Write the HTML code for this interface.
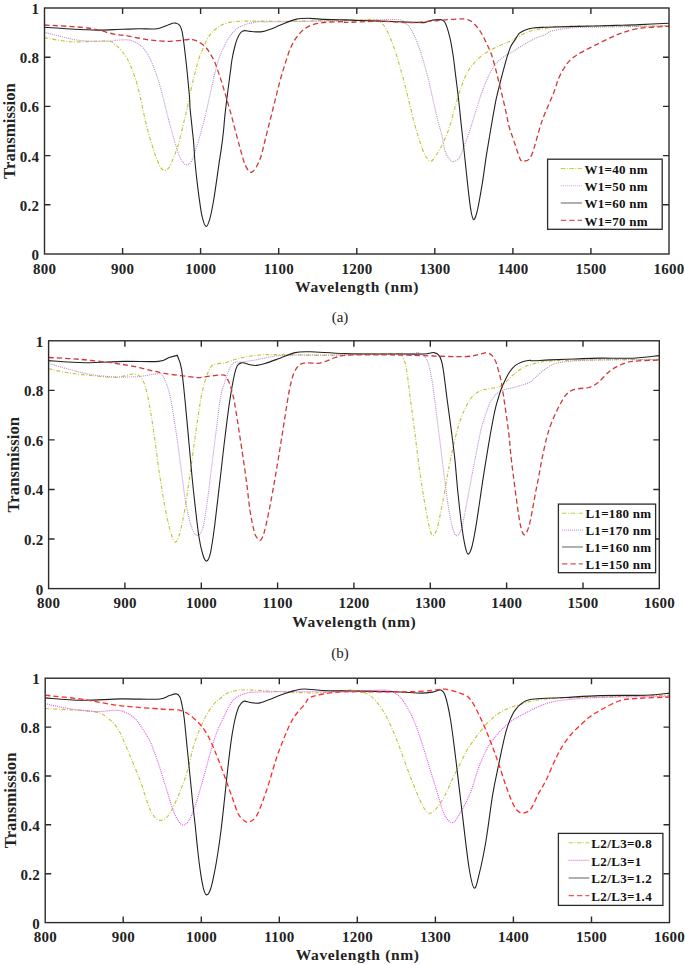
<!DOCTYPE html>
<html><head><meta charset="utf-8"><style>
html,body{margin:0;padding:0;background:#fff;}
body{width:685px;height:965px;overflow:hidden;font-family:"Liberation Serif",serif;}
svg{display:block;}
</style></head><body>
<svg width="685" height="965" viewBox="0 0 685 965">
<clipPath id="ca"><rect x="44.5" y="8.0" width="624.5" height="246.0"/></clipPath>
<g clip-path="url(#ca)">
<path d="M44.5,37.7 C48.8,38.4 61.6,41.1 70.3,41.7 C79.0,42.3 90.0,41.3 96.6,41.2 C103.2,41.1 106.8,40.4 110.0,41.1 C113.2,41.8 113.8,43.6 115.8,45.2 C117.8,46.9 119.8,48.7 121.7,51.0 C123.7,53.3 125.8,56.1 127.5,59.2 C129.2,62.3 130.6,65.6 132.2,69.7 C133.8,73.8 135.5,79.0 136.9,83.7 C138.3,88.4 139.2,92.6 140.4,97.7 C141.6,102.8 142.8,109.1 143.9,114.1 C145.0,119.1 145.7,122.5 147.0,127.5 C148.3,132.5 150.1,138.8 151.7,143.9 C153.3,149.0 154.9,154.0 156.4,157.9 C157.9,161.8 159.1,165.1 160.4,167.2 C161.8,169.3 163.0,170.5 164.5,170.5 C166.0,170.5 167.6,169.5 169.2,167.2 C170.8,164.9 172.5,160.0 173.9,156.7 C175.3,153.4 176.1,151.9 177.4,147.4 C178.8,142.9 180.4,136.1 182.0,129.9 C183.6,123.7 185.0,117.6 186.7,110.0 C188.4,102.4 190.8,90.5 192.2,84.2 C193.6,77.9 194.2,76.1 195.3,71.9 C196.4,67.7 197.5,62.7 198.8,58.8 C200.1,54.9 201.7,51.7 203.1,48.3 C204.5,44.9 205.8,41.5 207.5,38.6 C209.2,35.7 211.4,33.0 213.6,30.8 C215.8,28.6 218.1,26.9 220.7,25.5 C223.3,24.1 226.5,23.1 229.4,22.4 C232.3,21.7 234.8,21.5 238.2,21.3 C241.6,21.1 239.7,21.1 250.0,21.1 C260.3,21.1 281.7,21.3 300.0,21.1 C318.3,20.9 347.4,20.1 360.0,19.8 C372.6,19.5 372.2,19.1 375.5,19.5 C378.8,19.9 378.4,20.8 380.0,22.0 C381.6,23.2 383.4,24.4 385.0,26.9 C386.6,29.4 388.2,33.0 389.9,36.9 C391.5,40.8 393.2,45.2 394.9,50.2 C396.6,55.2 398.2,61.0 399.9,66.8 C401.6,72.6 403.2,78.7 404.9,85.0 C406.6,91.3 408.2,98.2 409.9,104.9 C411.5,111.6 413.1,118.8 414.8,124.9 C416.5,131.0 418.1,136.5 419.8,141.5 C421.5,146.5 423.0,151.4 424.8,154.7 C426.6,158.0 428.7,161.4 430.6,161.4 C432.5,161.4 434.3,157.8 436.4,154.7 C438.5,151.6 440.8,147.8 443.0,143.1 C445.2,138.4 447.7,132.5 449.7,126.5 C451.7,120.5 453.1,113.6 455.0,107.1 C456.9,100.5 459.1,93.0 461.2,87.2 C463.3,81.4 465.3,76.2 467.4,72.2 C469.5,68.2 471.6,66.0 473.7,63.5 C475.8,61.0 477.4,59.4 479.9,57.3 C482.4,55.2 485.5,53.0 488.6,51.1 C491.7,49.2 495.5,47.5 498.6,46.1 C501.7,44.7 504.9,43.4 507.0,42.5 C509.1,41.6 509.1,41.7 511.3,40.5 C513.5,39.3 517.1,37.0 520.0,35.5 C522.9,34.0 525.9,32.6 528.8,31.6 C531.7,30.6 534.9,30.0 537.6,29.5 C540.3,29.0 540.0,29.2 545.0,28.6 C550.0,28.1 551.9,26.6 567.7,26.2 C583.5,25.8 623.1,26.3 640.0,26.2 C656.9,26.1 664.2,25.7 669.0,25.6" fill="none" stroke="#c2c232" stroke-width="1.1" stroke-dasharray="3.8 1.7 0.9 1.8" stroke-linejoin="round"/>
<path d="M44.5,32.4 C50.2,33.7 68.1,38.8 79.0,40.3 C89.9,41.8 103.9,41.2 110.0,41.2 C116.1,41.2 112.9,40.5 115.8,40.3 C118.7,40.1 124.2,39.6 127.5,39.9 C130.8,40.2 133.2,41.0 135.7,42.3 C138.2,43.6 140.6,45.3 142.7,47.5 C144.8,49.7 146.8,52.6 148.5,55.7 C150.2,58.8 151.6,62.3 153.2,66.2 C154.8,70.1 156.3,74.2 157.9,79.1 C159.5,84.0 161.1,89.6 162.6,95.4 C164.1,101.2 165.9,108.9 167.2,114.1 C168.5,119.3 169.1,121.6 170.4,126.4 C171.7,131.2 173.4,137.6 175.0,142.7 C176.6,147.8 178.3,153.4 179.7,156.7 C181.1,160.0 182.0,161.2 183.2,162.6 C184.4,164.0 185.3,165.1 186.7,164.9 C188.1,164.7 189.8,164.1 191.4,161.4 C193.0,158.7 194.6,153.2 196.1,148.5 C197.6,143.8 198.9,139.8 200.7,133.4 C202.4,127.0 204.7,118.2 206.6,110.0 C208.5,101.8 210.8,90.7 212.3,84.2 C213.8,77.7 214.3,75.3 215.4,71.1 C216.5,66.9 217.6,62.6 218.9,58.8 C220.2,55.0 221.8,51.5 223.3,48.3 C224.8,45.1 226.1,42.1 227.7,39.5 C229.3,36.9 231.0,34.5 232.9,32.5 C234.8,30.5 236.8,28.7 239.0,27.3 C241.2,25.9 244.3,24.9 246.1,24.2 C247.9,23.5 247.7,23.7 250.0,23.3 C252.3,22.9 256.7,21.9 260.0,21.7 C263.3,21.4 253.3,22.0 270.0,21.8 C286.7,21.6 338.9,20.9 360.0,20.5 C381.1,20.1 389.1,19.1 396.6,19.5 C404.1,19.9 402.4,21.0 404.9,22.8 C407.4,24.6 409.3,26.6 411.5,30.3 C413.7,34.0 416.3,40.2 418.2,45.2 C420.1,50.2 421.5,54.6 423.1,60.1 C424.8,65.6 426.4,71.8 428.1,78.4 C429.8,85.1 431.4,92.8 433.1,100.0 C434.8,107.2 436.7,115.8 438.1,121.5 C439.5,127.2 440.3,129.0 441.5,134.0 C442.7,139.0 443.8,147.2 445.3,151.6 C446.8,156.0 449.1,158.8 450.6,160.4 C452.1,162.0 452.6,161.7 454.1,161.3 C455.6,160.9 457.6,160.6 459.4,157.8 C461.2,155.0 462.9,149.2 464.7,144.6 C466.4,140.0 468.0,135.9 469.9,130.1 C471.8,124.3 474.1,116.1 476.2,109.6 C478.3,103.1 480.3,96.5 482.4,90.9 C484.5,85.3 486.3,80.6 488.6,76.0 C490.9,71.4 493.4,66.8 496.1,63.5 C498.8,60.2 502.3,57.9 504.8,56.1 C507.3,54.3 508.8,54.0 511.3,52.5 C513.8,51.0 517.1,48.8 520.0,47.0 C522.9,45.2 525.9,43.4 528.8,41.8 C531.7,40.2 534.9,38.5 537.6,37.3 C540.3,36.1 542.6,35.8 545.0,34.7 C547.4,33.6 547.6,32.0 552.2,30.9 C556.9,29.8 563.8,28.4 572.9,27.8 C582.0,27.2 595.4,27.2 606.6,27.0 C617.8,26.8 629.6,26.6 640.0,26.4 C650.4,26.2 664.2,25.9 669.0,25.8" fill="none" stroke="#b68cc8" stroke-width="1.1" stroke-dasharray="1 1" stroke-linejoin="round"/>
<path d="M44.5,27.2 C48.1,27.4 58.8,28.3 66.0,28.7 C73.2,29.1 82.1,29.6 87.8,29.8 C93.5,30.0 94.2,30.2 100.0,30.1 C105.8,30.0 116.3,29.5 122.8,29.3 C129.3,29.1 133.2,28.9 138.9,28.8 C144.6,28.7 152.2,29.4 157.0,28.8 C161.8,28.2 164.3,26.1 167.4,25.2 C170.5,24.2 173.2,22.4 175.6,23.1 C178.0,23.8 179.9,24.0 181.6,29.6 C183.2,35.2 184.2,45.8 185.5,56.8 C186.8,67.8 188.6,86.8 189.4,95.7 C190.2,104.6 189.5,102.6 190.2,110.0 C190.9,117.4 192.6,131.7 193.4,140.0 C194.2,148.3 194.2,153.1 194.8,159.7 C195.4,166.3 196.1,172.8 196.8,179.4 C197.6,186.0 198.4,192.9 199.3,199.1 C200.2,205.3 201.0,212.2 202.2,216.8 C203.3,221.4 204.9,226.2 206.2,226.4 C207.5,226.6 208.9,222.0 210.1,217.8 C211.3,213.6 212.4,207.1 213.5,201.0 C214.6,194.9 215.6,187.5 216.5,181.3 C217.4,175.1 218.2,169.2 219.0,163.6 C219.8,158.0 220.7,153.3 221.4,147.9 C222.2,142.5 222.9,136.7 223.5,131.0 C224.1,125.3 224.3,120.6 225.1,113.8 C225.8,107.0 227.1,96.9 228.0,90.0 C228.9,83.1 229.6,77.5 230.3,72.4 C231.0,67.3 231.3,63.7 232.0,59.5 C232.7,55.3 233.8,50.5 234.7,47.0 C235.6,43.5 236.3,41.0 237.3,38.6 C238.3,36.2 239.6,33.8 240.8,32.5 C242.0,31.2 242.8,30.8 244.3,30.6 C245.8,30.4 248.1,31.2 250.0,31.4 C251.9,31.6 253.8,31.9 256.0,31.9 C258.2,31.9 260.2,32.1 263.3,31.4 C266.4,30.6 271.0,28.9 274.9,27.4 C278.8,25.9 282.9,23.9 286.5,22.5 C290.1,21.1 292.8,19.8 296.4,19.1 C300.0,18.4 304.1,18.3 308.0,18.3 C311.9,18.3 313.8,18.8 320.0,19.1 C326.2,19.4 338.3,19.7 345.0,19.9 C351.7,20.1 351.0,20.2 360.0,20.5 C369.0,20.8 388.5,21.4 398.9,21.8 C409.3,22.2 417.9,22.5 422.2,22.6 C426.5,22.7 423.2,22.7 424.8,22.3 C426.4,21.9 429.6,20.8 432.0,20.3 C434.4,19.8 436.8,19.2 438.9,19.5 C441.0,19.8 442.9,19.1 444.7,22.0 C446.5,24.9 448.3,31.2 449.7,36.9 C451.1,42.6 452.2,49.2 453.2,56.0 C454.2,62.8 455.0,70.5 455.9,77.6 C456.8,84.7 457.6,91.2 458.5,98.8 C459.4,106.4 460.2,115.2 461.1,123.4 C462.0,131.6 462.9,139.9 463.8,148.1 C464.7,156.3 465.5,164.6 466.4,172.8 C467.3,181.0 468.3,190.9 469.1,197.4 C469.9,203.9 470.5,208.3 471.2,212.0 C471.9,215.7 472.7,218.8 473.5,219.5 C474.3,220.2 475.1,217.9 475.8,216.0 C476.5,214.1 476.8,213.4 477.9,208.0 C479.0,202.6 480.8,192.4 482.3,183.3 C483.8,174.2 485.2,162.8 486.7,153.4 C488.2,144.0 489.6,135.5 491.1,127.0 C492.6,118.5 494.1,109.5 495.5,102.3 C496.9,95.1 498.5,89.4 499.8,84.0 C501.1,78.6 502.2,74.5 503.5,69.8 C504.8,65.1 506.1,60.0 507.3,56.1 C508.6,52.2 509.7,48.8 511.0,46.1 C512.3,43.4 513.6,42.0 515.0,39.9 C516.4,37.8 517.5,35.1 519.2,33.4 C520.9,31.7 523.0,30.8 525.3,29.9 C527.6,29.0 529.9,28.4 533.2,28.0 C536.5,27.6 537.5,27.6 545.0,27.3 C552.5,27.0 566.2,26.7 578.0,26.4 C589.8,26.1 605.6,25.7 615.9,25.4 C626.2,25.1 631.1,25.0 640.0,24.6 C648.9,24.2 664.2,23.5 669.0,23.3" fill="none" stroke="#222222" stroke-width="1.1" stroke-linejoin="round"/>
<path d="M44.5,25.0 C51.7,25.5 76.2,26.5 87.8,28.0 C99.4,29.5 107.8,32.9 114.1,34.2 C120.4,35.5 120.1,34.7 125.9,35.6 C131.7,36.5 141.8,39.0 149.1,39.9 C156.4,40.8 163.4,41.4 169.9,41.3 C176.4,41.2 184.8,39.8 188.1,39.5 C191.4,39.2 188.8,39.4 190.0,39.5 C191.2,39.6 193.6,39.8 195.3,40.4 C197.1,41.0 198.8,41.8 200.5,43.0 C202.2,44.2 204.2,45.6 205.8,47.4 C207.4,49.1 208.7,51.2 210.1,53.5 C211.5,55.8 213.2,58.5 214.5,61.4 C215.8,64.3 216.8,67.7 218.0,71.1 C219.2,74.5 219.6,75.3 221.5,81.6 C223.4,87.8 226.4,97.6 229.5,108.6 C232.6,119.6 237.2,138.0 239.9,147.5 C242.6,157.0 243.5,161.5 245.5,165.6 C247.5,169.7 249.6,173.1 252.0,172.1 C254.4,171.1 257.9,164.5 260.0,159.3 C262.1,154.1 263.2,147.4 264.9,141.0 C266.5,134.6 268.2,127.7 269.9,121.1 C271.6,114.5 273.2,107.8 274.9,101.2 C276.6,94.6 278.2,87.4 279.9,81.3 C281.5,75.2 283.1,70.0 284.8,64.8 C286.5,59.5 288.1,53.9 289.8,49.8 C291.5,45.6 292.9,42.9 294.8,39.9 C296.7,36.9 298.9,34.0 301.4,31.6 C303.9,29.2 306.6,27.2 309.7,25.8 C312.8,24.4 316.6,23.6 320.0,23.0 C323.4,22.4 325.9,22.2 330.1,22.0 C334.3,21.8 342.2,21.6 345.0,21.7 C347.8,21.8 340.8,22.5 346.6,22.4 C352.4,22.3 369.1,21.3 380.0,21.3 C390.9,21.3 402.2,22.7 411.8,22.6 C421.4,22.5 430.1,21.1 437.7,20.5 C445.3,19.9 452.9,19.2 457.5,19.0 C462.1,18.8 462.7,18.6 465.0,19.0 C467.3,19.4 469.1,19.8 471.2,21.2 C473.3,22.6 475.5,25.1 477.4,27.4 C479.3,29.7 480.8,32.2 482.4,34.9 C483.9,37.6 485.2,40.5 486.7,43.6 C488.1,46.7 489.8,49.9 491.1,53.6 C492.5,57.3 493.6,61.4 494.8,66.0 C496.1,70.6 497.4,76.0 498.6,81.0 C499.9,86.0 501.1,90.7 502.3,95.9 C503.5,101.1 504.9,106.9 506.0,112.1 C507.1,117.3 507.9,122.2 509.2,127.0 C510.5,131.8 512.2,135.8 514.0,141.1 C515.8,146.4 518.4,155.3 520.0,158.7 C521.6,162.0 521.8,161.8 523.7,161.2 C525.6,160.6 528.5,161.9 531.5,155.3 C534.5,148.7 538.2,131.8 541.8,121.6 C545.4,111.3 550.4,101.1 553.3,93.8 C556.2,86.5 556.8,82.5 559.0,77.6 C561.2,72.7 564.1,67.8 566.6,64.3 C569.1,60.8 571.4,59.0 574.2,56.8 C577.1,54.6 579.9,53.2 583.7,51.1 C587.5,49.0 592.5,46.6 596.9,44.4 C601.3,42.2 606.1,39.7 610.2,37.8 C614.3,35.9 617.5,34.4 621.6,33.0 C625.7,31.6 630.1,30.1 634.9,29.2 C639.6,28.2 644.4,27.8 650.1,27.3 C655.8,26.8 665.9,26.5 669.0,26.3" fill="none" stroke="#d03838" stroke-width="1.3" stroke-dasharray="5.2 3.1" stroke-linejoin="round"/>
</g>
<rect x="44.5" y="8.0" width="624.5" height="246.0" fill="none" stroke="#2b2b2b" stroke-width="1.4"/>
<path d="M122.6,254.0v-6.0 M122.6,8.0v6.0 M200.6,254.0v-6.0 M200.6,8.0v6.0 M278.7,254.0v-6.0 M278.7,8.0v6.0 M356.8,254.0v-6.0 M356.8,8.0v6.0 M434.8,254.0v-6.0 M434.8,8.0v6.0 M512.9,254.0v-6.0 M512.9,8.0v6.0 M590.9,254.0v-6.0 M590.9,8.0v6.0 M44.5,204.8h6.0 M669.0,204.8h-6.0 M44.5,155.6h6.0 M669.0,155.6h-6.0 M44.5,106.4h6.0 M669.0,106.4h-6.0 M44.5,57.2h6.0 M669.0,57.2h-6.0" stroke="#2b2b2b" stroke-width="1.4" fill="none"/>
<text x="44.6" y="273.5" text-anchor="middle" font-family="Liberation Serif, serif" font-weight="bold" font-size="15" letter-spacing="0.25" fill="#222">800</text>
<text x="122.7" y="273.5" text-anchor="middle" font-family="Liberation Serif, serif" font-weight="bold" font-size="15" letter-spacing="0.25" fill="#222">900</text>
<text x="200.7" y="273.5" text-anchor="middle" font-family="Liberation Serif, serif" font-weight="bold" font-size="15" letter-spacing="0.25" fill="#222">1000</text>
<text x="278.8" y="273.5" text-anchor="middle" font-family="Liberation Serif, serif" font-weight="bold" font-size="15" letter-spacing="0.25" fill="#222">1100</text>
<text x="356.9" y="273.5" text-anchor="middle" font-family="Liberation Serif, serif" font-weight="bold" font-size="15" letter-spacing="0.25" fill="#222">1200</text>
<text x="434.9" y="273.5" text-anchor="middle" font-family="Liberation Serif, serif" font-weight="bold" font-size="15" letter-spacing="0.25" fill="#222">1300</text>
<text x="513.0" y="273.5" text-anchor="middle" font-family="Liberation Serif, serif" font-weight="bold" font-size="15" letter-spacing="0.25" fill="#222">1400</text>
<text x="591.1" y="273.5" text-anchor="middle" font-family="Liberation Serif, serif" font-weight="bold" font-size="15" letter-spacing="0.25" fill="#222">1500</text>
<text x="669.1" y="273.5" text-anchor="middle" font-family="Liberation Serif, serif" font-weight="bold" font-size="15" letter-spacing="0.25" fill="#222">1600</text>
<text x="39.2" y="259.9" text-anchor="end" font-family="Liberation Serif, serif" font-weight="bold" font-size="15" letter-spacing="0.25" fill="#222">0</text>
<text x="39.2" y="210.7" text-anchor="end" font-family="Liberation Serif, serif" font-weight="bold" font-size="15" letter-spacing="0.25" fill="#222">0.2</text>
<text x="39.2" y="161.5" text-anchor="end" font-family="Liberation Serif, serif" font-weight="bold" font-size="15" letter-spacing="0.25" fill="#222">0.4</text>
<text x="39.2" y="112.3" text-anchor="end" font-family="Liberation Serif, serif" font-weight="bold" font-size="15" letter-spacing="0.25" fill="#222">0.6</text>
<text x="39.2" y="63.1" text-anchor="end" font-family="Liberation Serif, serif" font-weight="bold" font-size="15" letter-spacing="0.25" fill="#222">0.8</text>
<text x="39.2" y="13.9" text-anchor="end" font-family="Liberation Serif, serif" font-weight="bold" font-size="15" letter-spacing="0.25" fill="#222">1</text>
<text x="357.1" y="292.2" text-anchor="middle" font-family="Liberation Serif, serif" font-weight="bold" font-size="15.5" letter-spacing="0.66" fill="#222">Wavelength (nm)</text>
<text x="0" y="0" transform="translate(15.0,131.0) rotate(-90)" text-anchor="middle" font-family="Liberation Serif, serif" font-weight="bold" font-size="16.8" fill="#222">Transmission</text>
<rect x="547.6" y="159.2" width="114.6" height="70.1" fill="#fff" stroke="#2b2b2b" stroke-width="1.3"/>
<path d="M560.8,168.5H582.0" stroke="#c8d040" stroke-width="1.1" stroke-dasharray="4.6 1.6 0.8 1.5" fill="none"/>
<text x="584.5" y="173.7" font-family="Liberation Serif, serif" font-weight="bold" font-size="13" letter-spacing="0.25" fill="#111">W1=40 nm</text>
<path d="M560.8,185.8H582.0" stroke="#c8a0d8" stroke-width="1.1" stroke-dasharray="1 1" fill="none"/>
<text x="584.5" y="191.0" font-family="Liberation Serif, serif" font-weight="bold" font-size="13" letter-spacing="0.25" fill="#111">W1=50 nm</text>
<path d="M560.8,203.0H582.0" stroke="#7a7a7a" stroke-width="1.2" fill="none"/>
<text x="584.5" y="208.2" font-family="Liberation Serif, serif" font-weight="bold" font-size="13" letter-spacing="0.25" fill="#111">W1=60 nm</text>
<path d="M560.8,220.3H582.0" stroke="#dd5555" stroke-width="1.2" stroke-dasharray="5.4 3" fill="none"/>
<text x="584.5" y="225.5" font-family="Liberation Serif, serif" font-weight="bold" font-size="13" letter-spacing="0.25" fill="#111">W1=70 nm</text>
<text x="340.0" y="322.0" text-anchor="middle" font-family="Liberation Serif, serif" font-size="15" fill="#222">(a)</text>
<clipPath id="cb"><rect x="48.6" y="340.8" width="610.7" height="247.8"/></clipPath>
<g clip-path="url(#cb)">
<path d="M48.6,368.8 C52.4,369.6 61.0,371.9 71.4,373.3 C81.8,374.7 102.2,376.9 111.0,377.3 C119.8,377.7 120.2,376.4 124.2,375.9 C128.2,375.3 132.1,373.6 135.0,374.0 C137.9,374.4 139.8,375.8 141.7,378.4 C143.5,381.0 144.6,383.9 146.1,389.5 C147.6,395.1 149.1,403.2 150.6,411.8 C152.1,420.4 153.5,430.4 155.0,440.8 C156.5,451.2 157.8,463.1 159.5,474.2 C161.2,485.3 163.2,498.0 165.1,507.6 C166.9,517.2 168.9,526.4 170.6,532.1 C172.3,537.9 173.6,541.7 175.1,542.1 C176.6,542.5 177.8,540.0 179.5,534.3 C181.2,528.5 183.2,518.4 185.1,507.6 C187.0,496.8 188.8,482.7 190.7,469.7 C192.5,456.7 194.3,442.2 196.2,429.6 C198.0,417.0 199.9,403.3 201.8,394.0 C203.7,384.7 205.5,378.8 207.4,374.0 C209.3,369.2 210.1,366.9 213.0,365.0 C215.9,363.1 221.3,363.7 225.0,362.8 C228.7,361.9 231.7,360.5 235.0,359.5 C238.3,358.5 240.8,357.8 245.0,357.0 C249.2,356.2 255.0,355.4 260.0,355.0 C265.0,354.6 268.3,354.6 275.0,354.6 C281.7,354.6 290.8,354.9 300.0,355.0 C309.2,355.1 313.8,355.6 330.0,355.3 C346.2,355.1 385.4,353.6 397.4,353.5 C409.3,353.4 400.2,352.7 401.7,355.0 C403.1,357.3 404.6,359.7 406.1,367.3 C407.6,374.9 409.1,389.6 410.6,400.7 C412.1,411.8 413.5,422.6 415.0,434.1 C416.5,445.6 417.8,457.8 419.5,469.7 C421.2,481.6 423.4,495.8 425.1,505.4 C426.8,515.0 428.2,522.6 429.5,527.6 C430.8,532.6 431.6,535.4 432.9,535.4 C434.2,535.4 435.6,533.4 437.3,527.6 C439.0,521.9 441.0,510.5 442.9,500.9 C444.8,491.2 446.5,480.1 448.5,469.7 C450.5,459.3 452.9,447.4 455.1,438.5 C457.3,429.6 459.2,423.0 461.8,416.3 C464.4,409.6 467.7,402.7 470.7,398.5 C473.7,394.3 476.9,392.6 480.0,391.0 C483.1,389.4 486.2,389.4 489.3,388.7 C492.4,388.0 496.2,387.6 498.7,386.8 C501.2,386.0 502.3,385.2 504.3,383.6 C506.3,382.0 508.6,379.1 510.8,377.1 C513.0,375.1 515.1,373.1 517.3,371.5 C519.5,369.9 521.7,368.4 523.8,367.3 C525.9,366.2 526.3,365.9 530.0,364.9 C533.7,363.9 537.6,362.2 545.9,361.4 C554.2,360.6 560.7,360.5 579.6,360.1 C598.5,359.8 646.0,359.4 659.3,359.3" fill="none" stroke="#c2c232" stroke-width="1.1" stroke-dasharray="3.8 1.7 0.9 1.8" stroke-linejoin="round"/>
<path d="M48.6,363.5 C54.6,365.1 74.2,371.1 84.6,373.3 C95.0,375.5 102.2,376.1 111.0,376.7 C119.8,377.3 130.1,377.1 137.4,376.7 C144.7,376.2 150.9,374.4 155.0,374.0 C159.1,373.6 159.5,371.9 161.7,374.5 C163.9,377.1 166.5,383.3 168.4,389.5 C170.3,395.7 171.4,403.2 172.9,411.8 C174.4,420.4 175.8,430.4 177.3,440.8 C178.8,451.2 180.3,463.4 181.8,474.2 C183.3,485.0 184.5,496.5 186.2,505.4 C187.9,514.3 189.9,522.6 191.8,527.6 C193.7,532.6 195.6,535.4 197.4,535.4 C199.2,535.4 201.2,533.4 202.9,527.6 C204.6,521.9 205.9,511.3 207.4,500.9 C208.9,490.5 210.3,477.2 211.8,465.3 C213.3,453.4 214.8,441.1 216.3,429.6 C217.8,418.1 219.2,404.1 220.7,396.2 C222.1,388.3 223.6,386.4 225.0,382.0 C226.4,377.6 227.5,373.2 229.0,370.0 C230.5,366.8 231.6,364.2 233.8,362.8 C236.1,361.4 239.0,362.4 242.5,361.9 C246.0,361.4 249.2,361.0 255.0,360.0 C260.9,359.0 270.1,356.6 277.6,355.8 C285.1,355.0 291.3,355.1 300.0,355.0 C308.7,354.9 311.6,355.2 330.0,355.0 C348.4,354.8 396.1,353.9 410.7,353.5 C425.2,353.1 414.7,352.0 417.3,352.8 C419.9,353.6 423.8,354.1 426.2,358.4 C428.6,362.7 430.0,369.5 431.7,378.4 C433.4,387.3 434.7,400.3 436.2,411.8 C437.7,423.3 439.2,435.5 440.7,447.4 C442.2,459.3 443.6,472.0 445.1,483.1 C446.6,494.2 448.1,506.1 449.6,514.3 C451.1,522.5 452.7,528.6 454.0,532.1 C455.3,535.6 456.1,536.1 457.4,535.4 C458.7,534.6 460.3,532.6 461.8,527.6 C463.3,522.6 464.4,515.0 466.3,505.4 C468.2,495.8 470.7,481.6 473.0,469.7 C475.3,457.8 478.1,442.8 480.0,434.0 C481.9,425.2 483.0,422.5 484.7,417.2 C486.4,411.9 488.3,406.1 490.3,402.2 C492.3,398.3 494.5,395.9 496.8,393.8 C499.1,391.7 501.7,390.6 504.3,389.6 C506.9,388.6 509.8,388.5 512.6,387.8 C515.4,387.1 518.1,386.3 521.0,385.4 C523.9,384.5 527.6,383.5 530.0,382.2 C532.4,380.9 532.3,379.9 535.4,377.3 C538.5,374.7 544.2,369.2 548.6,366.7 C553.0,364.2 554.4,363.3 561.8,362.2 C569.2,361.1 576.6,360.5 592.9,360.1 C609.1,359.7 648.2,359.7 659.3,359.6" fill="none" stroke="#b68cc8" stroke-width="1.1" stroke-dasharray="1 1" stroke-linejoin="round"/>
<path d="M48.6,360.6 C54.6,361.0 72.0,362.6 84.6,362.7 C97.2,362.8 111.9,361.6 124.2,361.4 C136.5,361.2 151.1,362.0 158.6,361.4 C166.1,360.8 166.1,358.5 169.1,357.5 C172.1,356.5 174.9,355.8 176.3,355.6 C177.7,355.4 176.7,353.9 177.6,356.2 C178.5,358.5 180.3,361.0 181.6,369.4 C182.9,377.8 184.3,393.2 185.6,406.4 C186.9,419.6 188.2,434.6 189.5,448.7 C190.8,462.8 191.9,476.4 193.5,491.0 C195.1,505.6 197.2,525.4 198.8,536.0 C200.4,546.6 201.5,550.3 202.8,554.5 C204.1,558.7 205.4,561.6 206.7,561.1 C208.0,560.6 209.4,557.8 210.7,551.8 C212.0,545.8 213.1,537.3 214.7,525.4 C216.2,513.5 218.2,495.4 220.0,480.4 C221.8,465.4 223.4,449.6 225.2,435.5 C226.9,421.4 228.7,406.8 230.5,395.8 C232.3,384.8 234.0,374.9 235.8,369.4 C237.7,363.9 239.2,363.6 241.6,362.8 C244.0,362.0 247.5,364.4 250.0,364.8 C252.5,365.2 254.0,365.6 256.5,365.4 C259.0,365.2 261.1,364.7 265.0,363.5 C268.9,362.3 275.0,360.0 280.0,358.2 C285.0,356.4 290.0,353.7 295.0,352.6 C300.0,351.5 301.7,351.7 310.0,351.8 C318.3,351.9 330.0,353.1 344.6,353.5 C359.2,353.9 384.2,353.9 397.4,354.0 C410.6,354.1 417.8,354.2 423.9,354.0 C430.0,353.8 431.4,352.2 434.0,352.6 C436.6,353.0 438.0,353.7 439.5,356.1 C441.0,358.6 441.6,359.9 442.9,367.3 C444.2,374.7 445.8,389.6 447.3,400.7 C448.8,411.8 450.5,424.1 451.8,434.1 C453.1,444.1 454.0,450.9 455.0,460.6 C456.0,470.3 456.8,481.9 457.9,492.5 C459.0,503.1 460.3,515.4 461.5,524.3 C462.7,533.2 464.0,541.1 465.1,546.1 C466.2,551.1 466.9,553.9 468.0,554.1 C469.1,554.3 470.5,551.5 471.7,547.5 C472.9,543.5 474.1,536.9 475.3,530.1 C476.5,523.4 477.7,515.0 478.9,507.0 C480.1,499.0 481.3,490.3 482.5,482.3 C483.7,474.3 485.0,466.6 486.2,459.1 C487.4,451.6 488.4,445.5 489.8,437.4 C491.2,429.3 493.5,417.1 494.9,410.6 C496.3,404.1 497.1,402.2 498.2,398.5 C499.3,394.8 500.3,391.3 501.5,388.2 C502.7,385.1 503.8,382.7 505.2,379.9 C506.6,377.1 508.2,373.9 509.9,371.5 C511.6,369.1 513.4,367.0 515.4,365.4 C517.4,363.8 519.6,362.8 522.0,361.9 C524.4,361.0 528.2,360.5 530.0,360.3 C531.8,360.1 529.3,360.9 532.6,360.8 C535.9,360.7 542.9,360.2 550.0,359.9 C557.1,359.6 566.7,359.3 575.0,359.0 C583.3,358.7 590.4,358.2 600.0,358.1 C609.6,358.0 622.6,358.6 632.5,358.2 C642.4,357.8 654.8,356.0 659.3,355.6" fill="none" stroke="#222222" stroke-width="1.1" stroke-linejoin="round"/>
<path d="M48.6,357.5 C53.7,357.8 68.9,358.4 79.3,359.3 C89.7,360.2 101.3,361.4 111.0,362.7 C120.7,364.0 128.6,365.4 137.4,367.2 C146.2,369.0 154.3,371.6 163.9,373.3 C173.5,375.0 188.8,376.6 195.0,377.3 C201.2,378.0 197.2,377.7 201.4,377.3 C205.6,376.9 215.7,375.1 219.9,375.1 C224.1,375.1 224.3,373.9 226.5,377.3 C228.7,380.8 230.9,386.1 233.1,395.8 C235.3,405.5 237.5,421.3 239.7,435.4 C241.9,449.5 244.6,467.8 246.3,480.3 C248.0,492.8 248.7,502.0 250.0,510.5 C251.3,519.0 253.0,526.7 254.1,531.2 C255.2,535.7 255.8,536.0 256.8,537.5 C257.8,539.0 258.9,540.6 259.9,540.5 C260.9,540.4 261.7,539.2 262.6,537.0 C263.5,534.8 264.1,532.9 265.5,527.1 C266.9,521.3 269.0,511.3 270.7,502.3 C272.4,493.3 274.2,483.3 275.9,473.3 C277.6,463.3 279.4,451.9 281.0,442.2 C282.6,432.5 283.8,423.9 285.2,415.3 C286.6,406.7 287.9,397.4 289.3,390.5 C290.7,383.6 291.9,378.1 293.5,374.0 C295.1,369.9 296.9,367.5 298.6,365.7 C300.3,363.9 302.1,363.7 303.8,363.2 C305.6,362.7 306.8,362.8 309.1,362.8 C311.5,362.8 315.0,363.6 317.9,363.3 C320.8,363.0 323.7,362.0 326.6,361.0 C329.5,360.0 332.3,358.4 335.4,357.5 C338.5,356.6 339.1,355.8 345.0,355.4 C350.9,354.9 360.1,354.8 371.0,354.8 C381.9,354.8 395.6,355.0 410.7,355.3 C425.8,355.6 450.3,356.8 461.4,356.7 C472.5,356.6 473.7,355.4 477.3,354.8 C480.9,354.2 481.1,353.6 482.8,353.3 C484.5,353.0 485.9,352.4 487.5,352.8 C489.1,353.2 490.7,354.1 492.1,355.6 C493.5,357.2 494.8,359.5 495.9,362.1 C497.0,364.8 497.8,368.4 498.7,371.5 C499.6,374.6 500.3,377.4 501.0,380.8 C501.7,384.2 502.3,388.1 502.9,392.0 C503.5,395.9 504.0,399.3 504.7,404.1 C505.4,408.9 506.3,415.1 507.1,420.9 C507.9,426.6 508.6,431.8 509.4,438.6 C510.1,445.4 510.1,449.4 511.6,461.8 C513.1,474.2 516.7,501.9 518.4,513.3 C520.1,524.7 520.7,526.8 521.8,530.4 C522.9,534.0 523.8,535.3 524.9,534.7 C526.0,534.1 527.5,530.9 528.7,527.0 C529.9,523.1 531.0,517.3 532.1,511.6 C533.2,505.9 534.4,498.8 535.5,492.8 C536.6,486.8 537.8,481.7 538.9,475.7 C540.0,469.7 541.1,463.2 542.4,456.9 C543.7,450.6 545.2,443.5 546.6,438.1 C548.0,432.7 549.3,428.7 550.9,424.4 C552.5,420.1 554.3,416.2 556.0,412.5 C557.7,408.8 559.5,405.2 561.2,402.2 C562.9,399.2 564.6,396.4 566.3,394.5 C568.0,392.6 569.1,391.6 571.4,390.6 C573.7,389.6 577.1,389.0 580.0,388.5 C582.9,388.0 586.0,388.5 589.0,387.5 C592.0,386.5 594.8,385.2 598.1,382.6 C601.4,380.0 605.2,374.9 608.7,372.0 C612.2,369.1 615.3,367.2 619.3,365.4 C623.3,363.6 625.8,362.3 632.5,361.4 C639.2,360.5 654.8,360.3 659.3,360.1" fill="none" stroke="#d03838" stroke-width="1.3" stroke-dasharray="5.2 3.1" stroke-linejoin="round"/>
</g>
<rect x="48.6" y="340.8" width="610.7" height="247.8" fill="none" stroke="#2b2b2b" stroke-width="1.4"/>
<path d="M124.9,588.6v-6.0 M124.9,340.8v6.0 M201.3,588.6v-6.0 M201.3,340.8v6.0 M277.6,588.6v-6.0 M277.6,340.8v6.0 M353.9,588.6v-6.0 M353.9,340.8v6.0 M430.3,588.6v-6.0 M430.3,340.8v6.0 M506.6,588.6v-6.0 M506.6,340.8v6.0 M583.0,588.6v-6.0 M583.0,340.8v6.0 M48.6,539.0h6.0 M659.3,539.0h-6.0 M48.6,489.5h6.0 M659.3,489.5h-6.0 M48.6,439.9h6.0 M659.3,439.9h-6.0 M48.6,390.4h6.0 M659.3,390.4h-6.0" stroke="#2b2b2b" stroke-width="1.4" fill="none"/>
<text x="48.7" y="608.1" text-anchor="middle" font-family="Liberation Serif, serif" font-weight="bold" font-size="15" letter-spacing="0.25" fill="#222">800</text>
<text x="125.1" y="608.1" text-anchor="middle" font-family="Liberation Serif, serif" font-weight="bold" font-size="15" letter-spacing="0.25" fill="#222">900</text>
<text x="201.4" y="608.1" text-anchor="middle" font-family="Liberation Serif, serif" font-weight="bold" font-size="15" letter-spacing="0.25" fill="#222">1000</text>
<text x="277.7" y="608.1" text-anchor="middle" font-family="Liberation Serif, serif" font-weight="bold" font-size="15" letter-spacing="0.25" fill="#222">1100</text>
<text x="354.1" y="608.1" text-anchor="middle" font-family="Liberation Serif, serif" font-weight="bold" font-size="15" letter-spacing="0.25" fill="#222">1200</text>
<text x="430.4" y="608.1" text-anchor="middle" font-family="Liberation Serif, serif" font-weight="bold" font-size="15" letter-spacing="0.25" fill="#222">1300</text>
<text x="506.7" y="608.1" text-anchor="middle" font-family="Liberation Serif, serif" font-weight="bold" font-size="15" letter-spacing="0.25" fill="#222">1400</text>
<text x="583.1" y="608.1" text-anchor="middle" font-family="Liberation Serif, serif" font-weight="bold" font-size="15" letter-spacing="0.25" fill="#222">1500</text>
<text x="659.4" y="608.1" text-anchor="middle" font-family="Liberation Serif, serif" font-weight="bold" font-size="15" letter-spacing="0.25" fill="#222">1600</text>
<text x="43.4" y="594.5" text-anchor="end" font-family="Liberation Serif, serif" font-weight="bold" font-size="15" letter-spacing="0.25" fill="#222">0</text>
<text x="43.4" y="544.9" text-anchor="end" font-family="Liberation Serif, serif" font-weight="bold" font-size="15" letter-spacing="0.25" fill="#222">0.2</text>
<text x="43.4" y="495.4" text-anchor="end" font-family="Liberation Serif, serif" font-weight="bold" font-size="15" letter-spacing="0.25" fill="#222">0.4</text>
<text x="43.4" y="445.8" text-anchor="end" font-family="Liberation Serif, serif" font-weight="bold" font-size="15" letter-spacing="0.25" fill="#222">0.6</text>
<text x="43.4" y="396.3" text-anchor="end" font-family="Liberation Serif, serif" font-weight="bold" font-size="15" letter-spacing="0.25" fill="#222">0.8</text>
<text x="43.4" y="346.7" text-anchor="end" font-family="Liberation Serif, serif" font-weight="bold" font-size="15" letter-spacing="0.25" fill="#222">1</text>
<text x="354.3" y="626.8" text-anchor="middle" font-family="Liberation Serif, serif" font-weight="bold" font-size="15.5" letter-spacing="0.66" fill="#222">Wavelength (nm)</text>
<text x="0" y="0" transform="translate(18.8,464.7) rotate(-90)" text-anchor="middle" font-family="Liberation Serif, serif" font-weight="bold" font-size="16.8" fill="#222">Transmission</text>
<rect x="558.4" y="504.1" width="97.2" height="68.6" fill="#fff" stroke="#2b2b2b" stroke-width="1.3"/>
<path d="M562.0,513.3H582.8" stroke="#c8d040" stroke-width="1.1" stroke-dasharray="4.6 1.6 0.8 1.5" fill="none"/>
<text x="585.4" y="518.4" font-family="Liberation Serif, serif" font-weight="bold" font-size="13" letter-spacing="0.3" fill="#111">L1=180 nm</text>
<path d="M562.0,530.1H582.8" stroke="#c8a0d8" stroke-width="1.1" stroke-dasharray="1 1" fill="none"/>
<text x="585.4" y="535.2" font-family="Liberation Serif, serif" font-weight="bold" font-size="13" letter-spacing="0.3" fill="#111">L1=170 nm</text>
<path d="M562.0,547.0H582.8" stroke="#7a7a7a" stroke-width="1.2" fill="none"/>
<text x="585.4" y="552.1" font-family="Liberation Serif, serif" font-weight="bold" font-size="13" letter-spacing="0.3" fill="#111">L1=160 nm</text>
<path d="M562.0,563.8H582.8" stroke="#dd5555" stroke-width="1.2" stroke-dasharray="5.4 3" fill="none"/>
<text x="585.4" y="568.9" font-family="Liberation Serif, serif" font-weight="bold" font-size="13" letter-spacing="0.3" fill="#111">L1=150 nm</text>
<text x="340.0" y="657.5" text-anchor="middle" font-family="Liberation Serif, serif" font-size="15" fill="#222">(b)</text>
<clipPath id="cc"><rect x="45.2" y="678.2" width="624.3" height="244.4"/></clipPath>
<g clip-path="url(#cc)">
<path d="M45.2,708.5 C49.1,708.7 60.1,709.3 68.4,709.8 C76.7,710.3 88.2,710.2 94.8,711.6 C101.4,713.0 104.0,715.1 108.0,718.2 C112.0,721.3 115.1,724.2 118.6,730.1 C122.1,736.0 125.6,745.6 129.2,753.9 C132.8,762.2 137.6,773.9 140.0,780.1 C142.4,786.3 142.4,787.6 143.7,791.3 C144.9,795.0 146.2,799.1 147.5,802.5 C148.8,805.9 149.8,809.1 151.2,811.8 C152.6,814.4 154.3,817.0 155.9,818.4 C157.5,819.8 159.3,820.5 161.0,820.4 C162.7,820.3 164.5,819.3 166.1,817.9 C167.7,816.5 169.4,814.0 170.8,811.8 C172.2,809.5 173.3,807.0 174.5,804.4 C175.7,801.8 176.9,799.0 178.2,796.0 C179.4,793.0 180.8,789.9 182.0,786.6 C183.2,783.3 184.6,779.8 185.7,776.4 C186.8,773.0 187.4,771.2 188.6,766.5 C189.8,761.8 191.5,753.3 193.0,748.0 C194.5,742.7 196.0,738.8 197.4,734.9 C198.8,731.0 200.0,728.4 201.7,724.8 C203.4,721.2 205.3,716.8 207.5,713.2 C209.7,709.6 212.7,705.5 214.8,703.0 C216.9,700.5 217.9,700.1 220.0,698.5 C222.1,696.9 224.5,694.6 227.1,693.3 C229.7,692.0 232.7,691.2 235.5,690.7 C238.3,690.2 239.7,690.0 243.8,690.0 C247.9,690.0 255.3,690.2 260.0,690.4 C264.7,690.6 264.3,690.8 271.8,691.2 C279.3,691.6 296.6,692.6 305.0,692.8 C313.4,693.0 314.6,693.1 322.0,692.6 C329.4,692.1 342.3,689.9 349.5,690.0 C356.7,690.1 361.0,691.2 365.4,693.1 C369.8,695.0 372.5,697.1 376.0,701.1 C379.5,705.1 383.0,710.3 386.5,716.9 C390.0,723.5 393.6,731.9 397.1,740.7 C400.6,749.5 404.2,760.5 407.7,769.7 C411.2,778.9 415.3,789.5 418.2,796.1 C421.1,802.7 422.8,806.4 424.8,809.3 C426.8,812.2 428.1,813.5 430.1,813.3 C432.1,813.1 434.3,810.9 436.7,808.0 C439.1,805.1 441.9,801.1 444.6,796.1 C447.3,791.1 449.9,784.3 453.1,777.7 C456.3,771.1 460.9,761.9 463.7,756.5 C466.5,751.1 466.4,750.7 470.0,745.5 C473.6,740.3 480.1,731.0 485.2,725.5 C490.3,720.0 494.7,715.8 500.4,712.3 C506.1,708.8 511.7,706.9 519.3,704.7 C526.9,702.5 532.4,700.3 545.9,699.0 C559.4,697.7 579.4,697.7 600.0,697.1 C620.6,696.5 657.9,695.5 669.5,695.2" fill="none" stroke="#c2c232" stroke-width="1.1" stroke-dasharray="3.8 1.7 0.9 1.8" stroke-linejoin="round"/>
<path d="M45.2,703.7 C49.1,704.5 60.1,707.2 68.4,708.5 C76.7,709.8 86.9,711.3 94.8,711.6 C102.7,711.9 110.7,710.1 116.0,710.3 C121.3,710.5 123.0,711.1 126.5,712.9 C130.0,714.7 133.3,716.4 137.1,720.9 C140.9,725.4 146.5,735.0 149.3,740.0 C152.1,745.0 152.4,747.2 154.0,751.2 C155.6,755.2 157.1,759.6 158.7,764.3 C160.2,769.0 161.8,774.2 163.3,779.2 C164.9,784.2 166.4,789.1 168.0,794.1 C169.6,799.1 171.0,804.8 172.6,809.0 C174.2,813.2 175.6,816.6 177.3,819.3 C179.0,822.0 181.0,824.8 182.9,825.1 C184.8,825.4 186.9,823.4 188.6,821.2 C190.3,819.0 191.5,815.5 193.0,811.7 C194.5,808.0 196.0,803.3 197.4,798.7 C198.8,794.1 200.2,789.3 201.7,784.2 C203.1,779.1 204.6,773.6 206.1,768.3 C207.6,763.0 208.9,757.4 210.4,752.3 C211.9,747.2 213.3,742.2 214.8,737.8 C216.3,733.4 217.8,729.8 219.5,726.0 C221.2,722.2 223.1,718.5 224.8,715.0 C226.5,711.5 227.7,708.0 229.5,705.2 C231.3,702.4 233.1,700.0 235.5,698.1 C237.9,696.2 240.4,694.9 243.8,693.9 C247.2,692.9 245.5,692.5 255.7,692.1 C265.9,691.7 293.9,691.8 305.0,691.7 C316.1,691.7 313.7,691.8 322.0,691.8 C330.3,691.8 344.9,692.1 354.8,691.8 C364.7,691.5 374.6,689.9 381.2,690.0 C387.8,690.1 390.4,690.3 394.4,692.6 C398.4,694.9 401.5,698.3 405.0,703.7 C408.5,709.1 412.1,716.0 415.6,724.8 C419.1,733.6 422.6,745.5 426.1,756.5 C429.6,767.5 433.7,781.3 436.7,790.9 C439.7,800.5 441.7,808.7 444.2,814.0 C446.7,819.3 449.4,822.3 451.8,822.6 C454.2,822.9 455.4,820.8 458.4,816.0 C461.4,811.2 466.5,802.3 470.0,793.9 C473.5,785.5 476.0,773.9 479.5,765.4 C483.0,756.9 486.1,749.5 490.9,742.6 C495.6,735.7 502.0,728.8 508.0,723.7 C514.0,718.7 520.6,715.6 526.9,712.3 C533.2,709.0 539.6,705.8 545.9,703.7 C552.2,701.6 555.9,700.9 564.9,699.9 C573.9,698.9 582.6,698.1 600.0,697.5 C617.4,696.9 657.9,696.5 669.5,696.3" fill="none" stroke="#e050f0" stroke-width="1.1" stroke-dasharray="1 1" stroke-linejoin="round"/>
<path d="M45.2,697.9 C51.3,698.3 68.9,700.1 81.6,700.3 C94.3,700.5 108.4,699.1 121.2,698.9 C134.0,698.7 150.3,699.7 158.2,699.2 C166.1,698.7 165.8,696.7 168.8,695.8 C171.8,694.9 174.3,693.7 176.2,693.9 C178.1,694.1 179.0,695.2 180.0,697.2 C181.0,699.2 181.5,702.4 182.2,706.0 C182.9,709.6 183.5,712.0 184.3,719.0 C185.1,726.0 186.2,738.3 187.2,748.0 C188.2,757.7 189.1,767.4 190.1,777.0 C191.1,786.6 192.2,798.1 193.0,805.9 C193.8,813.6 194.2,816.4 195.0,823.5 C195.8,830.6 196.6,840.0 197.5,848.3 C198.4,856.6 199.6,866.4 200.6,873.2 C201.6,880.0 202.7,885.7 203.7,889.3 C204.7,892.9 205.7,894.9 206.8,894.9 C207.9,894.9 209.2,892.9 210.5,889.3 C211.8,885.7 213.1,879.4 214.3,873.2 C215.6,867.0 216.9,859.2 218.0,852.0 C219.1,844.8 220.0,838.5 221.1,829.7 C222.2,820.9 223.6,807.5 224.5,799.3 C225.4,791.0 225.8,787.0 226.5,780.2 C227.2,773.5 228.1,765.5 228.9,758.8 C229.7,752.1 230.5,745.3 231.3,739.8 C232.1,734.2 232.9,729.7 233.7,725.5 C234.5,721.3 235.2,718.0 236.1,714.8 C237.0,711.6 237.8,708.6 239.0,706.4 C240.2,704.2 241.8,702.2 243.2,701.4 C244.6,700.6 245.7,701.5 247.4,701.7 C249.1,702.0 251.2,702.7 253.3,702.9 C255.4,703.1 257.3,703.5 260.0,702.9 C262.7,702.3 266.2,700.8 269.6,699.5 C273.1,698.2 276.6,696.5 280.7,695.0 C284.8,693.5 290.1,691.6 294.1,690.6 C298.2,689.6 300.4,689.0 305.0,689.0 C309.6,689.0 313.7,690.2 322.0,690.5 C330.3,690.8 342.7,690.8 354.8,691.0 C366.9,691.2 383.4,691.4 394.4,691.8 C405.4,692.1 414.3,693.1 420.9,693.1 C427.5,693.1 430.8,692.3 434.1,691.8 C437.4,691.3 438.6,689.3 440.5,690.0 C442.4,690.7 443.5,690.9 445.2,695.8 C446.9,700.7 448.7,708.9 450.5,719.5 C452.3,730.1 453.8,743.4 455.8,759.2 C457.8,775.1 460.2,796.6 462.4,814.6 C464.6,832.6 467.0,855.2 469.0,867.5 C471.0,879.8 472.6,887.2 474.3,888.1 C476.1,889.0 477.5,880.7 479.5,872.7 C481.5,864.7 483.9,853.1 486.1,840.0 C488.3,826.9 490.7,806.3 492.8,793.9 C494.9,781.5 496.3,775.8 498.5,765.4 C500.7,755.0 503.6,740.1 506.1,731.2 C508.6,722.4 510.9,717.1 513.7,712.3 C516.5,707.5 519.6,704.6 523.1,702.4 C526.6,700.2 527.5,699.8 534.5,699.0 C541.5,698.2 554.0,698.1 564.9,697.5 C575.8,696.9 586.6,696.0 600.0,695.6 C613.4,695.2 633.7,695.6 645.3,695.2 C656.9,694.8 665.5,693.5 669.5,693.1" fill="none" stroke="#222222" stroke-width="1.1" stroke-linejoin="round"/>
<path d="M45.2,695.2 C51.3,695.9 68.9,697.4 81.6,699.2 C94.3,701.0 108.0,704.2 121.2,705.8 C134.4,707.4 151.7,708.3 160.9,709.0 C170.2,709.7 173.5,709.6 176.7,709.8 C179.9,710.0 178.2,709.7 180.0,710.3 C181.8,710.9 184.8,711.8 187.2,713.2 C189.6,714.7 192.1,716.8 194.5,719.0 C196.9,721.2 199.3,723.1 201.7,726.2 C204.1,729.3 206.8,733.7 209.0,737.8 C211.2,741.9 212.9,746.3 214.8,750.9 C216.7,755.5 218.7,760.3 220.6,765.4 C222.5,770.5 224.8,777.0 226.4,781.3 C228.0,785.6 228.8,788.1 230.0,791.4 C231.2,794.7 232.1,797.2 233.5,801.0 C234.9,804.8 236.5,810.8 238.4,814.2 C240.3,817.6 243.2,820.0 245.1,821.3 C246.9,822.6 247.7,822.8 249.5,822.0 C251.3,821.2 254.0,819.9 256.2,816.4 C258.4,812.9 260.7,806.7 262.9,800.8 C265.1,794.9 267.4,787.8 269.6,780.8 C271.8,773.8 274.1,765.2 276.3,758.5 C278.5,751.8 280.8,746.3 283.0,740.7 C285.2,735.1 287.4,729.6 289.6,725.1 C291.8,720.6 293.7,717.5 296.3,714.0 C298.9,710.5 302.8,706.6 305.0,703.9 C307.2,701.2 306.7,699.6 309.3,698.0 C311.9,696.4 315.1,695.5 320.5,694.5 C325.9,693.5 333.7,692.2 341.6,691.8 C349.5,691.3 357.0,691.8 368.0,691.8 C379.0,691.8 397.0,692.0 407.7,691.8 C418.4,691.6 425.8,690.9 432.0,690.5 C438.2,690.1 440.8,688.9 445.2,689.2 C449.6,689.6 454.3,691.0 458.4,692.6 C462.5,694.2 466.2,694.5 470.0,699.0 C473.8,703.5 477.9,712.6 481.4,719.9 C484.9,727.2 488.0,735.3 490.9,742.6 C493.8,749.9 496.0,756.2 498.5,763.5 C501.0,770.8 503.6,779.3 506.1,786.3 C508.6,793.3 511.6,801.1 513.7,805.3 C515.8,809.5 516.9,810.2 518.5,811.5 C520.1,812.8 521.1,813.6 523.1,813.2 C525.1,812.8 528.2,812.3 530.7,809.1 C533.2,805.9 535.8,798.6 538.3,793.9 C540.8,789.1 543.4,785.7 545.9,780.6 C548.4,775.5 551.0,768.9 553.5,763.5 C556.0,758.1 558.2,753.0 561.1,748.3 C564.0,743.5 567.4,738.8 570.6,735.0 C573.8,731.2 576.9,728.5 580.1,725.5 C583.3,722.5 586.3,719.5 589.6,717.0 C592.9,714.5 595.1,713.1 600.0,710.4 C604.9,707.7 612.7,703.0 618.9,701.0 C625.1,699.0 629.0,699.0 637.4,698.4 C645.8,697.8 664.1,697.3 669.5,697.1" fill="none" stroke="#ff2a2a" stroke-width="1.3" stroke-dasharray="5.2 3.1" stroke-linejoin="round"/>
</g>
<rect x="45.2" y="678.2" width="624.3" height="244.4" fill="none" stroke="#2b2b2b" stroke-width="1.4"/>
<path d="M123.2,922.6v-6.0 M123.2,678.2v6.0 M201.3,922.6v-6.0 M201.3,678.2v6.0 M279.3,922.6v-6.0 M279.3,678.2v6.0 M357.3,922.6v-6.0 M357.3,678.2v6.0 M435.4,922.6v-6.0 M435.4,678.2v6.0 M513.4,922.6v-6.0 M513.4,678.2v6.0 M591.5,922.6v-6.0 M591.5,678.2v6.0 M45.2,873.7h6.0 M669.5,873.7h-6.0 M45.2,824.8h6.0 M669.5,824.8h-6.0 M45.2,776.0h6.0 M669.5,776.0h-6.0 M45.2,727.1h6.0 M669.5,727.1h-6.0" stroke="#2b2b2b" stroke-width="1.4" fill="none"/>
<text x="45.3" y="942.1" text-anchor="middle" font-family="Liberation Serif, serif" font-weight="bold" font-size="15" letter-spacing="0.25" fill="#222">800</text>
<text x="123.4" y="942.1" text-anchor="middle" font-family="Liberation Serif, serif" font-weight="bold" font-size="15" letter-spacing="0.25" fill="#222">900</text>
<text x="201.4" y="942.1" text-anchor="middle" font-family="Liberation Serif, serif" font-weight="bold" font-size="15" letter-spacing="0.25" fill="#222">1000</text>
<text x="279.4" y="942.1" text-anchor="middle" font-family="Liberation Serif, serif" font-weight="bold" font-size="15" letter-spacing="0.25" fill="#222">1100</text>
<text x="357.5" y="942.1" text-anchor="middle" font-family="Liberation Serif, serif" font-weight="bold" font-size="15" letter-spacing="0.25" fill="#222">1200</text>
<text x="435.5" y="942.1" text-anchor="middle" font-family="Liberation Serif, serif" font-weight="bold" font-size="15" letter-spacing="0.25" fill="#222">1300</text>
<text x="513.5" y="942.1" text-anchor="middle" font-family="Liberation Serif, serif" font-weight="bold" font-size="15" letter-spacing="0.25" fill="#222">1400</text>
<text x="591.6" y="942.1" text-anchor="middle" font-family="Liberation Serif, serif" font-weight="bold" font-size="15" letter-spacing="0.25" fill="#222">1500</text>
<text x="669.6" y="942.1" text-anchor="middle" font-family="Liberation Serif, serif" font-weight="bold" font-size="15" letter-spacing="0.25" fill="#222">1600</text>
<text x="40.0" y="928.5" text-anchor="end" font-family="Liberation Serif, serif" font-weight="bold" font-size="15" letter-spacing="0.25" fill="#222">0</text>
<text x="40.0" y="879.6" text-anchor="end" font-family="Liberation Serif, serif" font-weight="bold" font-size="15" letter-spacing="0.25" fill="#222">0.2</text>
<text x="40.0" y="830.7" text-anchor="end" font-family="Liberation Serif, serif" font-weight="bold" font-size="15" letter-spacing="0.25" fill="#222">0.4</text>
<text x="40.0" y="781.9" text-anchor="end" font-family="Liberation Serif, serif" font-weight="bold" font-size="15" letter-spacing="0.25" fill="#222">0.6</text>
<text x="40.0" y="733.0" text-anchor="end" font-family="Liberation Serif, serif" font-weight="bold" font-size="15" letter-spacing="0.25" fill="#222">0.8</text>
<text x="40.0" y="684.1" text-anchor="end" font-family="Liberation Serif, serif" font-weight="bold" font-size="15" letter-spacing="0.25" fill="#222">1</text>
<text x="357.7" y="960.0" text-anchor="middle" font-family="Liberation Serif, serif" font-weight="bold" font-size="15.5" letter-spacing="0.66" fill="#222">Wavelength (nm)</text>
<text x="0" y="0" transform="translate(15.5,800.4) rotate(-90)" text-anchor="middle" font-family="Liberation Serif, serif" font-weight="bold" font-size="16.8" fill="#222">Transmission</text>
<rect x="558.4" y="833.4" width="104.5" height="72.0" fill="#fff" stroke="#2b2b2b" stroke-width="1.3"/>
<path d="M568.6,842.7H589.3" stroke="#c8d040" stroke-width="1.1" stroke-dasharray="4.6 1.6 0.8 1.5" fill="none"/>
<text x="591.3" y="848.0" font-family="Liberation Serif, serif" font-weight="bold" font-size="13" letter-spacing="0.35" fill="#111">L2/L3=0.8</text>
<path d="M568.6,860.4H589.3" stroke="#e070f0" stroke-width="1.1" stroke-dasharray="1 1" fill="none"/>
<text x="591.3" y="865.7" font-family="Liberation Serif, serif" font-weight="bold" font-size="13" letter-spacing="0.35" fill="#111">L2/L3=1</text>
<path d="M568.6,878.0H589.3" stroke="#7a7a7a" stroke-width="1.2" fill="none"/>
<text x="591.3" y="883.3" font-family="Liberation Serif, serif" font-weight="bold" font-size="13" letter-spacing="0.35" fill="#111">L2/L3=1.2</text>
<path d="M568.6,895.7H589.3" stroke="#ff5050" stroke-width="1.2" stroke-dasharray="5.4 3" fill="none"/>
<text x="591.3" y="901.0" font-family="Liberation Serif, serif" font-weight="bold" font-size="13" letter-spacing="0.35" fill="#111">L2/L3=1.4</text>
</svg>
</body></html>
